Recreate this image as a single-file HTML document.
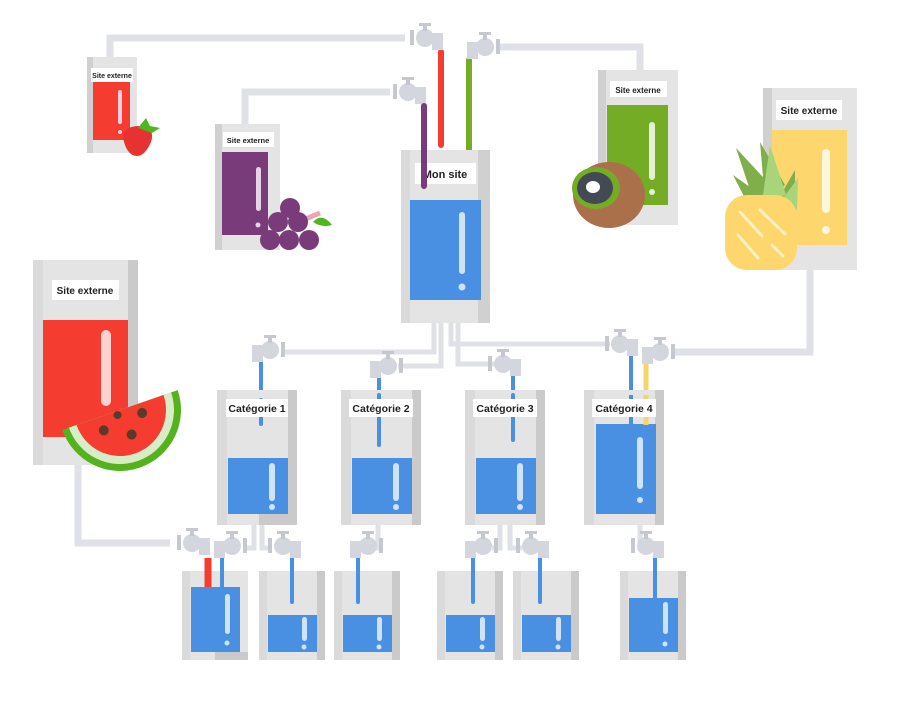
<!DOCTYPE html>
<html><head><meta charset="utf-8"><style>
html,body{margin:0;padding:0;background:#fff;width:900px;height:713px;overflow:hidden}
text{font-family:"Liberation Sans",sans-serif;font-weight:bold;fill:#222}
</style></head><body>
<svg width="900" height="713" viewBox="0 0 900 713" xmlns="http://www.w3.org/2000/svg">
<defs>
<g id="tapR">
<circle cx="0" cy="0" r="9" fill="#d4d6dd"/>
<rect x="-2" y="-13" width="4" height="6" fill="#c6c8d0"/>
<rect x="-6" y="-15" width="12" height="3" fill="#c6c8d0"/>
<rect x="0" y="-5" width="15" height="9" fill="#d4d6dd"/>
<rect x="7" y="-5" width="11" height="17" fill="#d4d6dd"/>
<rect x="-15" y="-8" width="4" height="15" fill="#c6c8d0"/>
</g>
<g id="tapL"><use href="#tapR" transform="scale(-1,1)"/></g>
</defs>
<g fill="none" stroke="#dfe1e7" stroke-width="7">
<polyline points="110,57 110,38 405,38"/>
<polyline points="245,124 245,92 390,92"/>
<polyline points="640,70 640,47 500,47"/>
<polyline points="810,270 810,352 672,352"/>
<polyline points="78,465 78,543 170,543"/>
<g stroke-width="5">
<polyline points="434,323 434,352 285,352"/>
<polyline points="441,323 441,366 398,366"/>
<polyline points="451,323 451,344 610,344"/>
<polyline points="458,323 458,364 505,364"/>
<polyline points="254,525 254,548 245,548"/>
<polyline points="262,525 262,548 272,548"/>
<polyline points="378,525 378,548 372,548"/>
<polyline points="500,525 500,548 492,548"/>
<polyline points="510,525 510,548 522,548"/>
<polyline points="640,525 640,548 642,548"/>
</g>
</g>
<g stroke-linecap="round" stroke-width="6">
<line x1="441" y1="52" x2="441" y2="145" stroke="#f53c31"/>
<line x1="469" y1="60" x2="469" y2="154" stroke="#75ac25"/>
<line x1="424" y1="106" x2="424" y2="186" stroke="#7a3b7a"/>
<line x1="261" y1="362" x2="261" y2="424" stroke="#4a90e2" stroke-width="4"/>
<line x1="379" y1="378" x2="379" y2="445" stroke="#4a90e2" stroke-width="4"/>
<line x1="513" y1="376" x2="513" y2="440" stroke="#4a90e2" stroke-width="4"/>
<line x1="631" y1="356" x2="631" y2="424" stroke="#4a90e2" stroke-width="4"/>
<line x1="646" y1="364" x2="646" y2="425" stroke="#f7d46a" stroke-width="5"/>
<line x1="208" y1="558" x2="208" y2="585" stroke="#f53c31" stroke-width="7" stroke-linecap="butt"/>
<line x1="222" y1="555" x2="222" y2="588" stroke="#4a90e2" stroke-width="4"/>
<line x1="292" y1="556" x2="292" y2="602" stroke="#4a90e2" stroke-width="4"/>
<line x1="358" y1="556" x2="358" y2="602" stroke="#4a90e2" stroke-width="4"/>
<line x1="473" y1="556" x2="473" y2="602" stroke="#4a90e2" stroke-width="4"/>
<line x1="540" y1="556" x2="540" y2="602" stroke="#4a90e2" stroke-width="4"/>
<line x1="655" y1="556" x2="655" y2="598" stroke="#4a90e2" stroke-width="4"/>
</g>
<use href="#tapR" x="425" y="38"/>
<use href="#tapR" x="408" y="92"/>
<use href="#tapL" x="485" y="47"/>
<use href="#tapL" x="660" y="352"/>
<use href="#tapR" x="192" y="543"/>
<use href="#tapL" x="270" y="350"/>
<use href="#tapL" x="388" y="366"/>
<use href="#tapR" x="620" y="344"/>
<use href="#tapR" x="503" y="364"/>
<use href="#tapL" x="232" y="546"/>
<use href="#tapR" x="283" y="546"/>
<use href="#tapL" x="368" y="546"/>
<use href="#tapL" x="483" y="546"/>
<use href="#tapR" x="531" y="546"/>
<use href="#tapR" x="646" y="546"/>

<rect x="87" y="57" width="50" height="96" fill="#e4e4e4"/><rect x="87" y="57" width="6" height="96" fill="#d0d0d0"/>
<rect x="93" y="82" width="37" height="58" fill="#f53c31"/>
<rect x="118" y="90" width="4" height="34" rx="2" fill="#fcd"/><circle cx="120" cy="132" r="2" fill="#fcd"/>
<rect x="91" y="68" width="42" height="14" fill="#fff"/><text x="112" y="78" font-size="7" text-anchor="middle">Site externe</text>
<path d="M124,142 Q120,127 138,126 Q156,127 151,142 Q145,156 137,156 Q128,156 124,142Z" fill="#e63331"/>
<path d="M138,128 L146,118 L150,126 L160,128 L152,133 Z" fill="#4fb520"/>
<rect x="215" y="124" width="65" height="126" fill="#e4e4e4"/><rect x="215" y="124" width="7" height="126" fill="#d0d0d0"/>
<rect x="222" y="152" width="46" height="83" fill="#7a3b7a"/>
<rect x="256" y="167" width="5" height="44" rx="2.5" fill="#e6d3e6"/><circle cx="258" cy="225" r="2.5" fill="#e6d3e6"/>
<rect x="223" y="132" width="51" height="15" fill="#fff"/><text x="248" y="143" font-size="7.5" text-anchor="middle">Site externe</text>
<line x1="303" y1="220" x2="320" y2="213" stroke="#f4a0b5" stroke-width="5"/>
<path d="M313,222 Q322,212 332,225 Q322,228 313,222Z" fill="#4fb520"/>
<g fill="#7a3b7a"><circle cx="290" cy="208" r="10"/><circle cx="278" cy="222" r="10"/><circle cx="298" cy="222" r="10"/><circle cx="270" cy="240" r="10"/><circle cx="289" cy="240" r="10"/><circle cx="309" cy="240" r="10"/></g>
<rect x="401" y="150" width="89" height="173" fill="#e4e4e4"/><rect x="478" y="150" width="12" height="173" fill="#d0d0d0"/><rect x="401" y="150" width="9" height="173" fill="#dadada"/>
<rect x="410" y="200" width="71" height="100" fill="#4a90e2"/>
<rect x="459" y="212" width="6" height="62" rx="3" fill="#cfe3f8"/><circle cx="462" cy="287" r="3.5" fill="#cfe3f8"/>
<rect x="415" y="163" width="61" height="21" fill="#fff"/><text x="445" y="178" font-size="11" text-anchor="middle">Mon site</text>
<line x1="424" y1="106" x2="424" y2="186" stroke="#7a3b7a" stroke-width="6" stroke-linecap="round"/>
<rect x="598" y="70" width="80" height="155" fill="#e4e4e4"/><rect x="598" y="70" width="8" height="155" fill="#d0d0d0"/>
<rect x="607" y="105" width="61" height="100" fill="#75ac25"/>
<rect x="649" y="122" width="6" height="58" rx="3" fill="#e4f0cf"/><circle cx="652" cy="192" r="3" fill="#e4f0cf"/>
<rect x="610" y="81" width="57" height="16" fill="#fff"/><text x="638" y="93" font-size="8" text-anchor="middle">Site externe</text>
<ellipse cx="609" cy="195" rx="36" ry="33" fill="#a9704a"/>
<ellipse cx="596" cy="188" rx="24" ry="21" fill="#75ac25"/>
<ellipse cx="595" cy="188" rx="18" ry="16" fill="#434a54"/>
<ellipse cx="593" cy="187" rx="7" ry="6" fill="#fff"/>
<rect x="763" y="88" width="94" height="182" fill="#e4e4e4"/><rect x="763" y="88" width="9" height="182" fill="#d0d0d0"/>
<rect x="772" y="130" width="75" height="115" fill="#fdd76d"/>
<rect x="822" y="149" width="8" height="64" rx="4" fill="#fff6dc"/><circle cx="826" cy="230" r="4" fill="#fff6dc"/>
<rect x="776" y="100" width="66" height="20" fill="#fff"/><text x="809" y="114" font-size="10" text-anchor="middle">Site externe</text>
<g fill="#7fae4a"><path d="M755,205 L736,148 L775,190Z"/><path d="M765,200 L760,142 L785,185Z"/><path d="M775,205 L795,170 L795,205Z"/><path d="M750,208 L733,175 L768,200Z"/></g>
<g fill="#a8d57a"><path d="M762,202 L770,145 L786,195Z"/><path d="M778,205 L798,178 L797,210Z"/></g>
<rect x="725" y="195" width="72" height="75" rx="22" fill="#fdd76d"/>
<g stroke="#fff0bf" stroke-width="3" stroke-linecap="round"><line x1="740" y1="212" x2="762" y2="236"/><line x1="760" y1="210" x2="785" y2="234"/><line x1="738" y1="235" x2="758" y2="258"/><line x1="772" y1="245" x2="783" y2="256"/></g>
<rect x="33" y="260" width="105" height="205" fill="#e4e4e4"/><rect x="33" y="260" width="10" height="205" fill="#dadada"/><rect x="128" y="260" width="10" height="205" fill="#cacaca"/>
<rect x="43" y="320" width="85" height="117" fill="#f53c31"/>
<rect x="101" y="330" width="10" height="76" rx="5" fill="#fdd3d0"/>
<rect x="52" y="280" width="67" height="20" fill="#fff"/><text x="85" y="294" font-size="10" text-anchor="middle">Site externe</text>
<g transform="translate(120,410) rotate(-19)">
<path d="M-61,0 A61,61 0 0 0 61,0Z" fill="#55b21c"/>
<path d="M-54,0 A54,54 0 0 0 54,0Z" fill="#d7edc8"/>
<path d="M-46,0 A46,46 0 0 0 46,0Z" fill="#f53c31"/>
<g fill="#5b3a27"><circle cx="-22" cy="14" r="5"/><circle cx="3" cy="27" r="5"/><circle cx="20" cy="10" r="5"/><circle cx="-4" cy="4" r="4"/></g>
</g>
<rect x="217" y="390" width="80" height="135" fill="#e4e4e4"/><rect x="217" y="390" width="10" height="135" fill="#dadada"/><rect x="259" y="505" width="38" height="20" fill="#cacaca"/><rect x="288" y="390" width="9" height="135" fill="#cacaca"/>
<rect x="228" y="458" width="60" height="56" fill="#4a90e2"/><rect x="269" y="463" width="6" height="38" rx="3" fill="#cfe3f8"/><circle cx="272" cy="507" r="3" fill="#cfe3f8"/>
<rect x="341" y="390" width="80" height="135" fill="#e4e4e4"/><rect x="341" y="390" width="10" height="135" fill="#dadada"/><rect x="412" y="390" width="9" height="135" fill="#cacaca"/>
<rect x="352" y="458" width="60" height="56" fill="#4a90e2"/><rect x="393" y="463" width="6" height="38" rx="3" fill="#cfe3f8"/><circle cx="396" cy="507" r="3" fill="#cfe3f8"/>
<rect x="465" y="390" width="80" height="135" fill="#e4e4e4"/><rect x="465" y="390" width="10" height="135" fill="#dadada"/><rect x="536" y="390" width="9" height="135" fill="#cacaca"/>
<rect x="476" y="458" width="60" height="56" fill="#4a90e2"/><rect x="517" y="463" width="6" height="38" rx="3" fill="#cfe3f8"/><circle cx="520" cy="507" r="3" fill="#cfe3f8"/>
<rect x="584" y="390" width="80" height="135" fill="#e4e4e4"/><rect x="584" y="390" width="10" height="135" fill="#dadada"/><rect x="655" y="390" width="9" height="135" fill="#cacaca"/>
<rect x="596" y="424" width="60" height="90" fill="#4a90e2"/><rect x="637" y="437" width="6" height="52" rx="3" fill="#cfe3f8"/><circle cx="640" cy="500" r="3" fill="#cfe3f8"/>
<line x1="261" y1="400" x2="261" y2="424" stroke="#4a90e2" stroke-width="4" stroke-linecap="round"/>
<line x1="379" y1="395" x2="379" y2="445" stroke="#4a90e2" stroke-width="4" stroke-linecap="round"/>
<line x1="513" y1="395" x2="513" y2="440" stroke="#4a90e2" stroke-width="4" stroke-linecap="round"/>
<line x1="631" y1="395" x2="631" y2="424" stroke="#4a90e2" stroke-width="4"/>
<line x1="646" y1="395" x2="646" y2="425" stroke="#f7d46a" stroke-width="5"/>
<rect x="226" y="399" width="62" height="18" fill="#fff"/><text x="257" y="412" font-size="10.5" text-anchor="middle">Catégorie 1</text>
<rect x="349" y="399" width="64" height="18" fill="#fff"/><text x="381" y="412" font-size="10.5" text-anchor="middle">Catégorie 2</text>
<rect x="473" y="399" width="64" height="18" fill="#fff"/><text x="505" y="412" font-size="10.5" text-anchor="middle">Catégorie 3</text>
<rect x="592" y="399" width="64" height="18" fill="#fff"/><text x="624" y="412" font-size="10.5" text-anchor="middle">Catégorie 4</text>
<rect x="182" y="571" width="66" height="89" fill="#e4e4e4"/><rect x="182" y="571" width="8" height="89" fill="#dadada"/><rect x="215" y="652" width="33" height="8" fill="#cacaca"/>
<rect x="191" y="587" width="49" height="65" fill="#4a90e2"/><rect x="225" y="594" width="5" height="40" rx="2.5" fill="#cfe3f8"/><circle cx="227" cy="643" r="2.5" fill="#cfe3f8"/>
<rect x="259" y="571" width="66" height="89" fill="#e4e4e4"/><rect x="259" y="571" width="8" height="89" fill="#dadada"/><rect x="317" y="571" width="8" height="89" fill="#cacaca"/>
<rect x="268" y="615" width="49" height="37" fill="#4a90e2"/><rect x="302" y="617" width="5" height="24" rx="2.5" fill="#cfe3f8"/><circle cx="304" cy="647" r="2.5" fill="#cfe3f8"/>
<rect x="334" y="571" width="66" height="89" fill="#e4e4e4"/><rect x="334" y="571" width="8" height="89" fill="#dadada"/><rect x="392" y="571" width="8" height="89" fill="#cacaca"/>
<rect x="343" y="615" width="49" height="37" fill="#4a90e2"/><rect x="377" y="617" width="5" height="24" rx="2.5" fill="#cfe3f8"/><circle cx="379" cy="647" r="2.5" fill="#cfe3f8"/>
<rect x="437" y="571" width="66" height="89" fill="#e4e4e4"/><rect x="437" y="571" width="8" height="89" fill="#dadada"/><rect x="495" y="571" width="8" height="89" fill="#cacaca"/>
<rect x="446" y="615" width="49" height="37" fill="#4a90e2"/><rect x="480" y="617" width="5" height="24" rx="2.5" fill="#cfe3f8"/><circle cx="482" cy="647" r="2.5" fill="#cfe3f8"/>
<rect x="513" y="571" width="66" height="89" fill="#e4e4e4"/><rect x="513" y="571" width="8" height="89" fill="#dadada"/><rect x="571" y="571" width="8" height="89" fill="#cacaca"/>
<rect x="522" y="615" width="49" height="37" fill="#4a90e2"/><rect x="556" y="617" width="5" height="24" rx="2.5" fill="#cfe3f8"/><circle cx="558" cy="647" r="2.5" fill="#cfe3f8"/>
<rect x="620" y="571" width="66" height="89" fill="#e4e4e4"/><rect x="620" y="571" width="8" height="89" fill="#dadada"/><rect x="678" y="571" width="8" height="89" fill="#cacaca"/>
<rect x="629" y="598" width="49" height="54" fill="#4a90e2"/><rect x="663" y="602" width="5" height="32" rx="2.5" fill="#cfe3f8"/><circle cx="665" cy="644" r="2.5" fill="#cfe3f8"/>
<g stroke-width="4" stroke="#4a90e2">
<line x1="222" y1="571" x2="222" y2="588"/><line x1="292" y1="571" x2="292" y2="602" stroke-linecap="round"/>
<line x1="358" y1="571" x2="358" y2="602" stroke-linecap="round"/><line x1="473" y1="571" x2="473" y2="602" stroke-linecap="round"/>
<line x1="540" y1="571" x2="540" y2="602" stroke-linecap="round"/><line x1="655" y1="571" x2="655" y2="598"/>
</g>
<line x1="208" y1="571" x2="208" y2="587" stroke="#f53c31" stroke-width="7"/>
</svg>
</body></html>
